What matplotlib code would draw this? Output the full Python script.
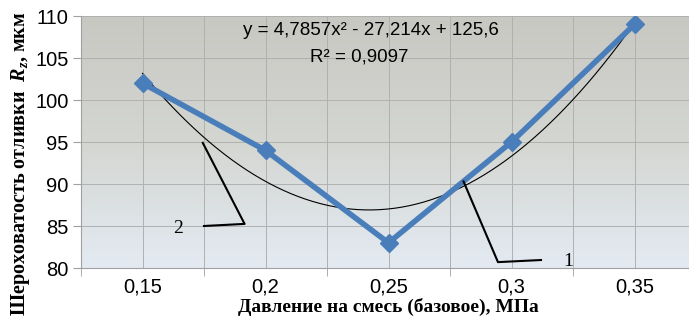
import numpy as np
import matplotlib.pyplot as plt
from matplotlib.colors import LinearSegmentedColormap

plt.rcParams['mathtext.fontset'] = 'custom'
plt.rcParams['mathtext.it'] = 'Liberation Serif:italic:bold'
plt.rcParams['mathtext.rm'] = 'Liberation Serif:bold'

# давление (базовое), МПа и шероховатость Rz, мкм
pressure = ['0,15', '0,2', '0,25', '0,3', '0,35']
rz = [102, 94, 83, 95, 109]
pos = np.arange(1, len(rz) + 1)

fig = plt.figure(figsize=(6.89, 3.2), dpi=100)
ax = fig.add_axes([81 / 689, 1 - 268 / 320, 615 / 689, 252 / 320])

# фон с градиентом как в Excel
grad = LinearSegmentedColormap.from_list('bg', ['#c8c8c3', '#d4d6d1', '#e3eaf2'])
ax.imshow(np.linspace(0, 1, 100).reshape(-1, 1), cmap=grad, aspect='auto',
          extent=[0.5, 5.5, 80, 110], zorder=0, origin='upper')

ax.set_xlim(0.5, 5.5)
ax.set_ylim(80, 110)
ax.set_yticks(np.arange(80, 111, 5))
ax.set_xticks(pos)
ax.set_xticklabels(pressure)
ax.set_xticks(np.arange(0.5, 5.6, 1), minor=True)
ax.tick_params(axis='x', which='major', length=0, pad=7, labelsize=14.5)
ax.tick_params(axis='x', which='minor', length=6, color='#a0a0a0')
ax.tick_params(axis='y', length=6, color='#a0a0a0', labelsize=14.5, pad=3)
for lab in ax.get_xticklabels() + ax.get_yticklabels():
    lab.set_family('Liberation Sans')
ax.grid(True, which='both', color='#b0b0b0', lw=0.7, zorder=1)
for s in ['top', 'right']:
    ax.spines[s].set_visible(False)
ax.spines['left'].set_color('#a0a0a0')
ax.spines['bottom'].set_color('#a0a0a0')

# полиномиальная линия тренда (2-я степень)
coef = np.polyfit(pos, rz, 2)
xs = np.linspace(1, 5, 200)
ax.plot(xs, np.polyval(coef, xs), color='black', lw=0.8, zorder=3)

ax.plot(pos, rz, color='#4a7ebb', lw=4, marker='D', ms=9, zorder=4)

ax.text(2.86, 108.3, 'y = 4,7857x² - 27,214x + 125,6', ha='center', va='center',
        fontsize=13.5, family='Liberation Sans', zorder=5)
ax.text(2.76, 105.1, 'R² = 0,9097', ha='center', va='center',
        fontsize=13.5, family='Liberation Sans', zorder=5)

# выноски 1 и 2
ax.plot([1.49, 1.83, 1.5], [94.9, 85.25, 85.0], color='black', lw=1.5, zorder=5)
ax.text(1.29, 84.7, '2', ha='center', va='center', fontsize=14, family='Liberation Serif')
ax.plot([3.61, 3.89, 4.24], [90.3, 80.7, 80.95], color='black', lw=1.5, zorder=5)
ax.text(4.46, 80.8, '1', ha='center', va='center', fontsize=14, family='Liberation Serif')

ax.set_xlabel('Давление на смесь (базовое), МПа', family='Liberation Serif',
              fontweight='bold', fontsize=14, labelpad=1)
fig.text(0.03, 0.49, r'Шероховатость отливки  $R_z$, мкм',
         rotation=90, ha='center', va='center', family='Liberation Serif',
         fontweight='bold', fontsize=14.5)

fig.savefig('out.png', dpi=100)
